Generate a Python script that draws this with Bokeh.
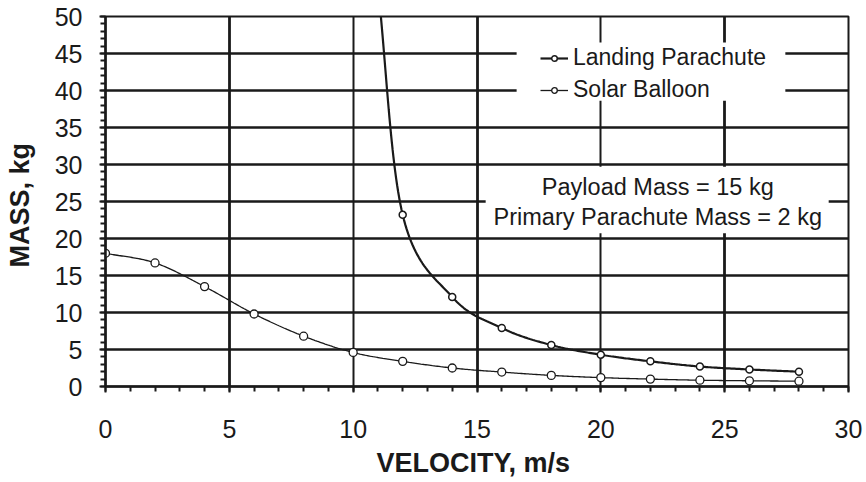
import numpy as np
from bokeh.plotting import figure
from bokeh.models import (Range1d, FixedTicker, Grid, Legend, LegendItem,
                          BoxAnnotation, Label)
from bokeh.embed import file_html
from bokeh.resources import INLINE

# ---------------- data ----------------
parachute_velocity = [11, 12, 14, 16, 18, 20, 22, 24, 26, 28]
parachute_mass = [54.0, 23.2, 12.1, 7.9, 5.6, 4.3, 3.4, 2.7, 2.3, 2.0]

balloon_velocity = [0, 2, 4, 6, 8, 10, 12, 14, 16, 18, 20, 22, 24, 26, 28]
balloon_mass = [18.0, 16.7, 13.5, 9.8, 6.8, 4.6, 3.4, 2.5, 1.95, 1.5, 1.2, 1.0, 0.85, 0.77, 0.72]

x_ticks = [0, 5, 10, 15, 20, 25, 30]
y_ticks = [0, 5, 10, 15, 20, 25, 30, 35, 40, 45, 50]
x_minor = list(range(0, 31))
y_minor = list(range(0, 51))

series_names = ["Landing Parachute", "Solar Balloon"]
note_lines = ["Payload Mass = 15 kg", "Primary Parachute Mass = 2 kg"]

INK = "#1a1a1a"
FONT = "Liberation Sans"


def smooth(xs, ys, n=30):
    """Catmull-Rom curve through the data points (like a smoothed line)."""
    P = np.column_stack([xs, ys]).astype(float)
    P = np.vstack([2 * P[0] - P[1], P, 2 * P[-1] - P[-2]])
    t = np.linspace(0, 1, n, endpoint=False)[:, None]
    h00 = 2 * t**3 - 3 * t**2 + 1
    h10 = t**3 - 2 * t**2 + t
    h01 = -2 * t**3 + 3 * t**2
    h11 = t**3 - t**2
    out = []
    for i in range(1, len(P) - 2):
        p0, p1, p2, p3 = P[i - 1], P[i], P[i + 1], P[i + 2]
        m1 = (p2 - p0) / 2
        m2 = (p3 - p1) / 2
        out.append(h00 * p1 + h10 * m1 + h01 * p2 + h11 * m2)
    out.append(P[-2][None, :])
    C = np.vstack(out)
    return C[:, 0], C[:, 1]


p = figure(width=866, height=482, output_backend="svg", toolbar_location=None,
           x_range=Range1d(0, 30), y_range=Range1d(0, 50),
           min_border_left=105, min_border_right=18,
           min_border_top=16, min_border_bottom=96)
p.background_fill_color = "white"
p.border_fill_color = "white"
p.outline_line_color = INK
p.outline_line_width = 2

# grids
p.xgrid.ticker = FixedTicker(ticks=[10, 20])
p.xgrid.grid_line_color = INK
p.xgrid.grid_line_width = 2
g5 = Grid(dimension=0, ticker=FixedTicker(ticks=[5, 15, 25]),
          grid_line_color=INK, grid_line_width=2.8)
p.add_layout(g5, "center")
p.ygrid.ticker = FixedTicker(ticks=y_ticks)
p.ygrid.grid_line_color = INK
p.ygrid.grid_line_width = 2.3

# axes
p.xaxis.ticker = FixedTicker(ticks=x_ticks, minor_ticks=x_minor)
p.yaxis.ticker = FixedTicker(ticks=y_ticks, minor_ticks=y_minor)
for ax in (p.xaxis[0], p.yaxis[0]):
    ax.axis_line_color = INK
    ax.axis_line_width = 2.5
    ax.major_tick_line_color = INK
    ax.minor_tick_line_color = INK
    ax.major_tick_line_width = 2
    ax.minor_tick_line_width = 2
    ax.major_tick_out = 6
    ax.major_tick_in = 0
    ax.minor_tick_out = 5
    ax.minor_tick_in = 0
    ax.major_label_text_font = FONT
    ax.major_label_text_font_size = "25px"
    ax.major_label_text_color = INK
    ax.axis_label_text_font = FONT
    ax.axis_label_text_font_style = "bold"
    ax.axis_label_text_font_size = "27px"
    ax.axis_label_text_color = INK
p.xaxis.axis_label = "VELOCITY,  m/s"
p.yaxis.axis_label = "MASS,  kg"
p.xaxis.major_label_standoff = 27
p.xaxis.axis_label_standoff = 7
p.yaxis.major_label_standoff = 17
p.yaxis.axis_label_standoff = 17

# series
px, py = smooth(parachute_velocity, parachute_mass)
bx, by = smooth(balloon_velocity, balloon_mass)

l1 = p.line(px, py, line_color=INK, line_width=2.2)
s1 = p.scatter(parachute_velocity, parachute_mass, marker="circle", size=7,
               fill_color="white", line_color=INK, line_width=1.5)
l2 = p.line(bx, by, line_color=INK, line_width=1.3)
s2 = p.scatter(balloon_velocity, balloon_mass, marker="circle", size=8,
               fill_color="white", line_color=INK, line_width=1.3)

# white boxes behind legend and note
legend_box = BoxAnnotation(left=16.6, right=27.45, bottom=38.6, top=46.5,
                           fill_color="white", fill_alpha=1, line_alpha=0)
note_box = BoxAnnotation(left=15.35, right=29.2, bottom=20.7, top=29.7,
                         fill_color="white", fill_alpha=1, line_alpha=0)
p.add_layout(legend_box)
p.add_layout(note_box)

p.add_layout(Label(x=22.3, y=26.9, text=note_lines[0], text_align="center",
                   text_baseline="middle", text_font=FONT,
                   text_font_size="23.5px", text_color=INK))
p.add_layout(Label(x=22.3, y=22.85, text=note_lines[1], text_align="center",
                   text_baseline="middle", text_font=FONT,
                   text_font_size="23.5px", text_color=INK))

legend = Legend(items=[LegendItem(label=series_names[0], renderers=[l1, s1]),
                       LegendItem(label=series_names[1], renderers=[l2, s2])],
                location=(435, 283), padding=0, spacing=5,
                glyph_width=28, glyph_height=14, label_height=26,
                label_standoff=5, background_fill_alpha=0, border_line_alpha=0,
                label_text_font=FONT, label_text_font_size="23px",
                label_text_color=INK)
p.add_layout(legend)

open("out.html", "w").write(file_html(p, INLINE))
